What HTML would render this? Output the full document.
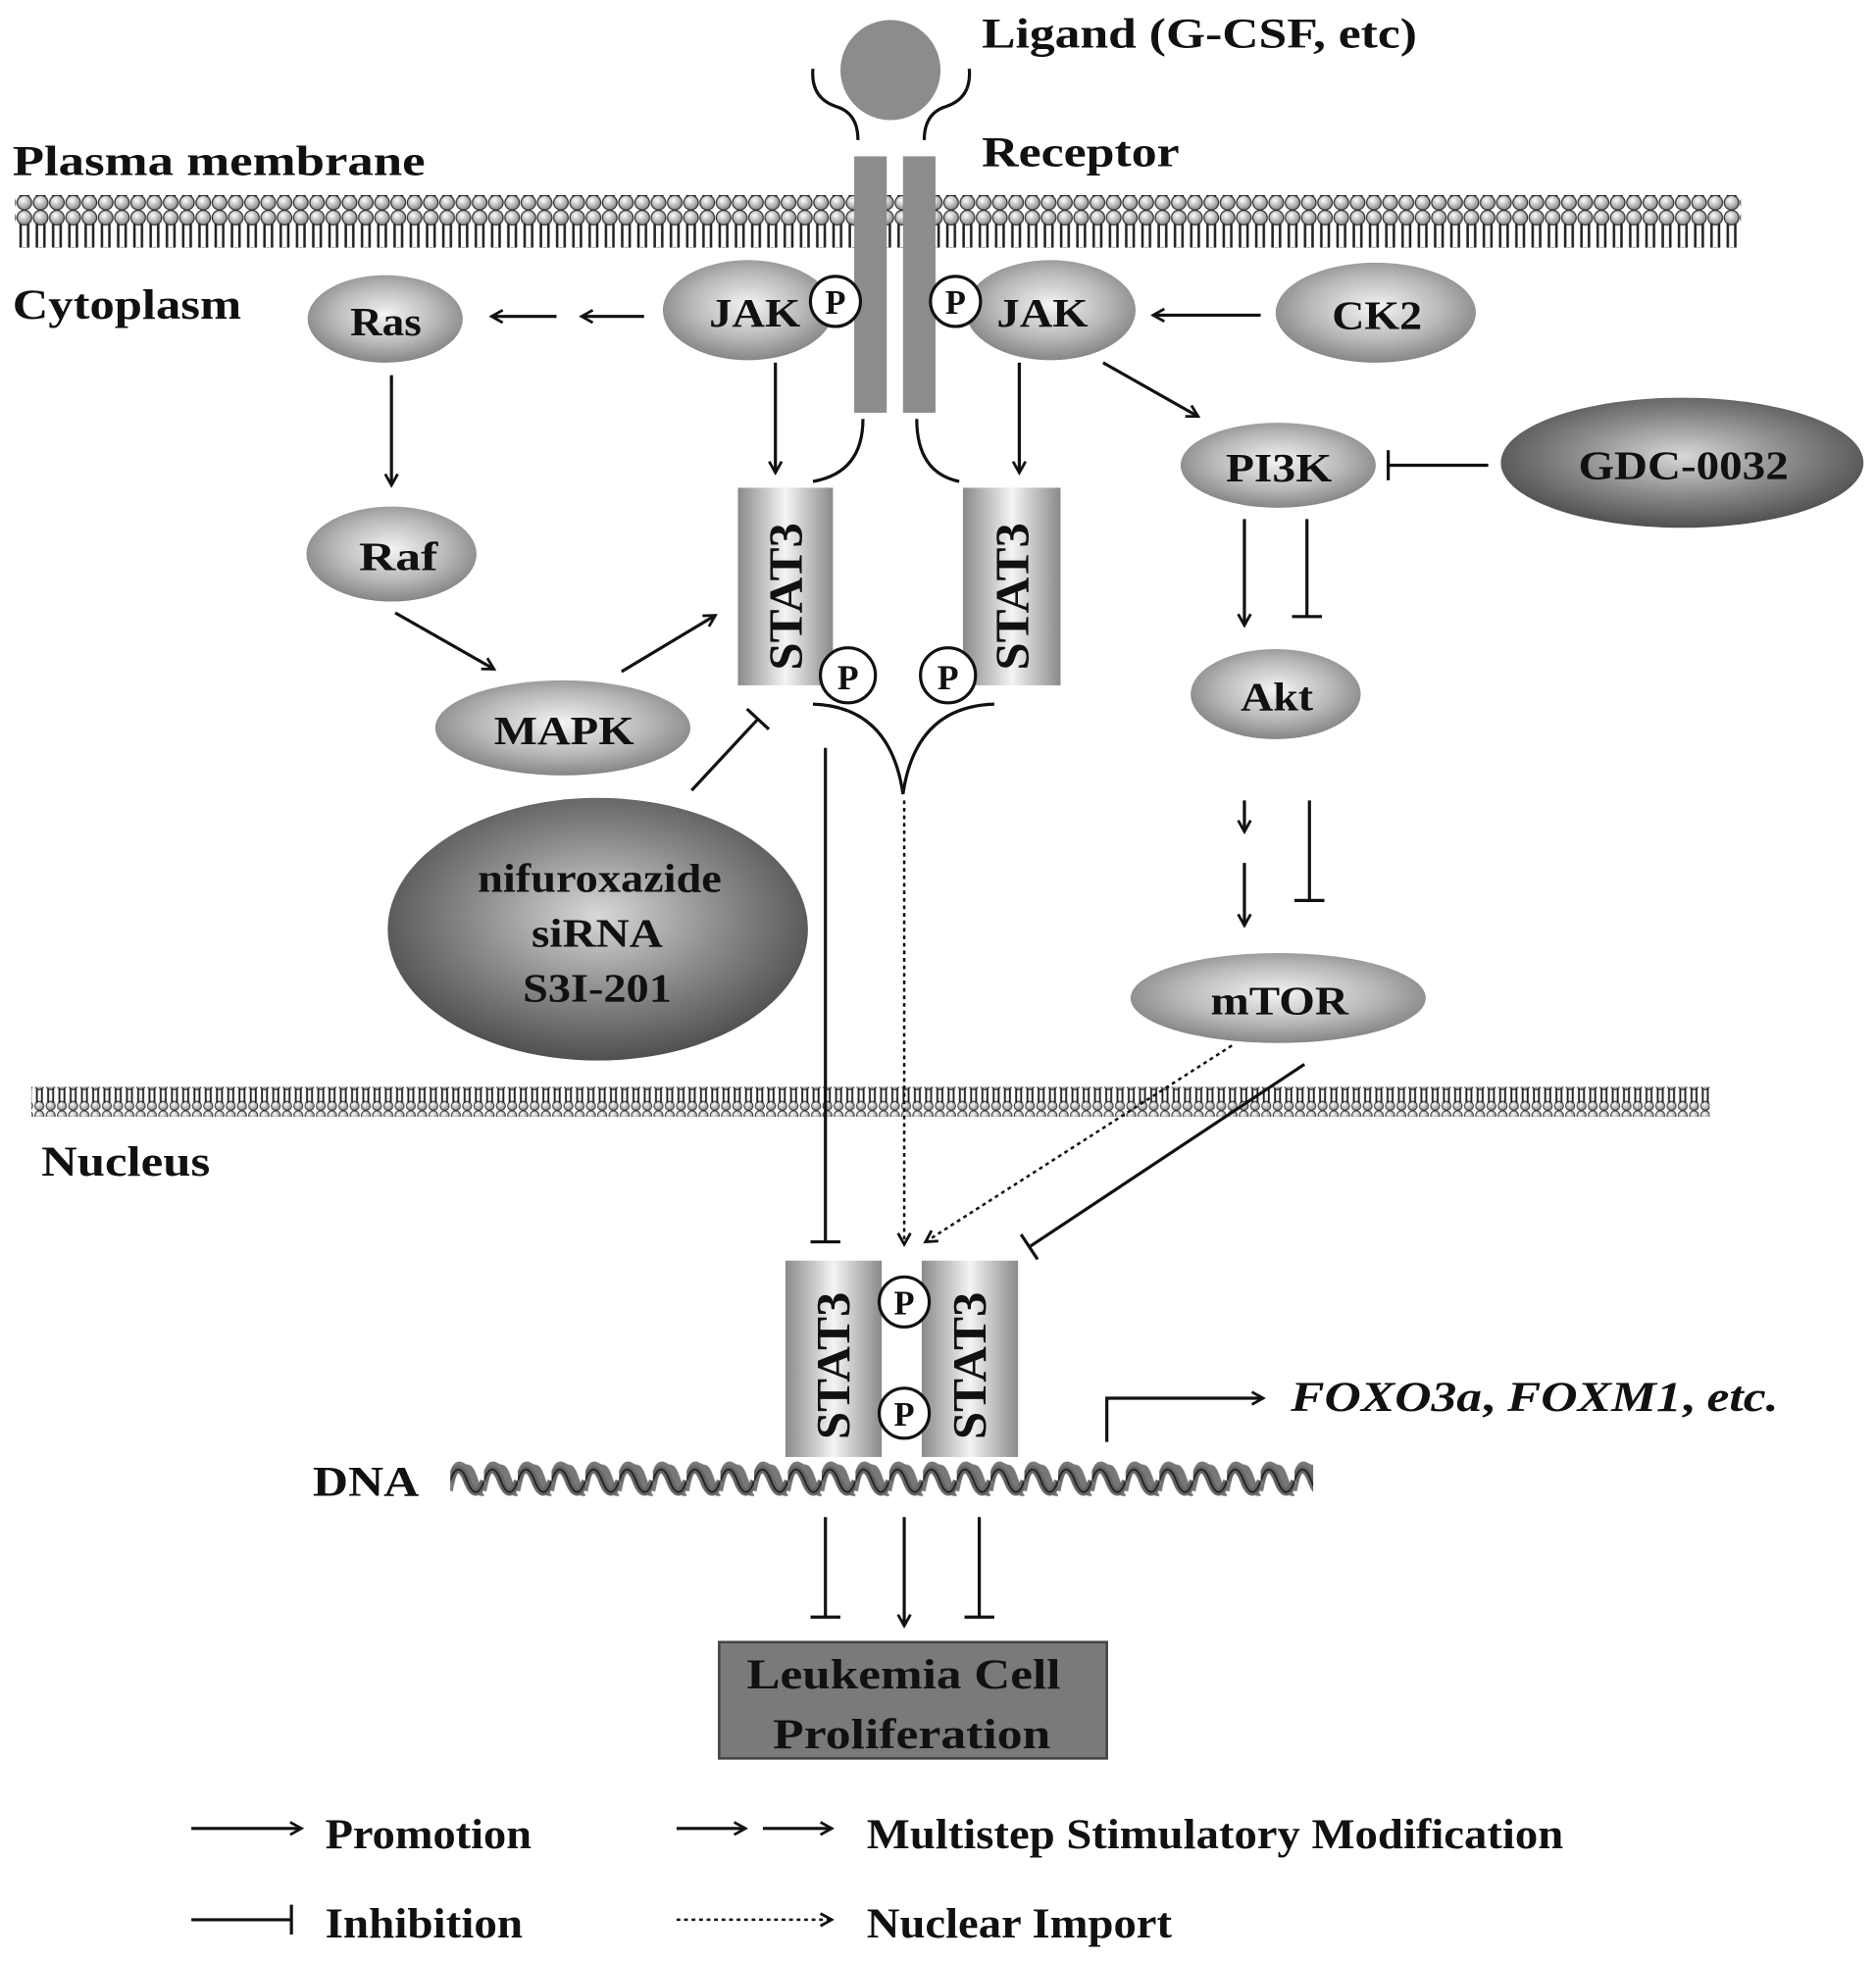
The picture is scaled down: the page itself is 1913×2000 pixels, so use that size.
<!DOCTYPE html>
<html><head><meta charset="utf-8"><style>
html,body{margin:0;padding:0;background:#fff;}
svg{display:block;}
text{font-family:"Liberation Serif",serif;font-weight:bold;fill:#111;}
</style></head><body>
<svg width="1913" height="2000" viewBox="0 0 1500 1568" preserveAspectRatio="none" xmlns="http://www.w3.org/2000/svg">
<defs>
<radialGradient id="eg" cx="50%" cy="45%" r="60%"><stop offset="0" stop-color="#f4f4f4"/><stop offset="0.55" stop-color="#b8b8b8"/><stop offset="1" stop-color="#7a7a7a"/></radialGradient>
<radialGradient id="dg" cx="50%" cy="45%" r="60%"><stop offset="0" stop-color="#d8d8d8"/><stop offset="0.5" stop-color="#8a8a8a"/><stop offset="1" stop-color="#444"/></radialGradient>
<linearGradient id="bx" x1="0" x2="1" y1="0" y2="0"><stop offset="0" stop-color="#8a8a8a"/><stop offset="0.5" stop-color="#f4f4f4"/><stop offset="1" stop-color="#8a8a8a"/></linearGradient>
<radialGradient id="lip" cx="40%" cy="35%" r="65%"><stop offset="0" stop-color="#fff"/><stop offset="1" stop-color="#888"/></radialGradient>
<pattern id="mem" x="0" y="0" width="13" height="42" patternUnits="userSpaceOnUse">
<circle cx="6.5" cy="6" r="5.8" fill="url(#lip)" stroke="#333" stroke-width="1"/>
<circle cx="6.5" cy="36" r="5.8" fill="url(#lip)" stroke="#333" stroke-width="1"/>
<path d="M3.5 11 V31 M9.5 11 V31" stroke="#222" stroke-width="2"/>
</pattern>
<pattern id="nmem" x="0" y="0" width="9" height="24" patternUnits="userSpaceOnUse">
<circle cx="4.5" cy="3.8" r="3.6" fill="url(#lip)" stroke="#333" stroke-width="0.8"/>
<circle cx="4.5" cy="20.2" r="3.6" fill="url(#lip)" stroke="#333" stroke-width="0.8"/>
<path d="M2.5 6 V18 M6.5 6 V18" stroke="#222" stroke-width="1.5"/>
</pattern>
<pattern id="dnap" x="360" y="1166" width="27" height="36" patternUnits="userSpaceOnUse">
<path d="M-1 26 C5 -4 8 8 13.5 8 C19 8 20 30 27 27 C29 26 28 26 28 26" fill="none" stroke="#777" stroke-width="6"/>
<path d="M0 18 C4 6 9 6 13.5 18 C18 30 23 30 27 18" fill="none" stroke="#666" stroke-width="6"/>
<path d="M0 18 C4 6 9 6 13.5 18 C18 30 23 30 27 18" fill="none" stroke="#222" stroke-width="1.5"/>
</pattern>
<marker id="ar" markerWidth="12" markerHeight="12" refX="10" refY="6" orient="auto" markerUnits="userSpaceOnUse"><path d="M1 1 L10 6 L1 11" fill="none" stroke="#111" stroke-width="2.2"/></marker>
<marker id="tb" markerWidth="4" markerHeight="24" refX="2" refY="12" orient="auto" markerUnits="userSpaceOnUse"><path d="M2 0 V24" stroke="#111" stroke-width="2.5"/></marker>
</defs>

<!-- membranes -->
<rect x="12" y="156" width="1380" height="42" fill="url(#mem)"/>
<rect x="25" y="869" width="1342" height="24" fill="url(#nmem)"/>

<!-- labels -->
<text x="10" y="140" font-size="34" textLength="330" lengthAdjust="spacingAndGlyphs">Plasma  membrane</text>
<text x="10" y="255" font-size="34" textLength="183" lengthAdjust="spacingAndGlyphs">Cytoplasm</text>
<text x="33" y="940" font-size="34" textLength="135" lengthAdjust="spacingAndGlyphs">Nucleus</text>
<text x="785" y="38" font-size="34" textLength="348" lengthAdjust="spacingAndGlyphs">Ligand (G-CSF, etc)</text>
<text x="785" y="133" font-size="34" textLength="158" lengthAdjust="spacingAndGlyphs">Receptor</text>

<!-- ligand & receptor -->
<circle cx="712" cy="56" r="40" fill="#8c8c8c"/>
<path d="M650 55 Q648 78 668 85 Q686 90 686 112" fill="none" stroke="#111" stroke-width="2.5"/>
<path d="M775 55 Q777 78 757 85 Q739 90 739 112" fill="none" stroke="#111" stroke-width="2.5"/>
<rect x="683" y="125" width="26" height="205" fill="#8c8c8c"/>
<rect x="722" y="125" width="26" height="205" fill="#8c8c8c"/>
<path d="M690 335 Q690 378 650 385" fill="none" stroke="#111" stroke-width="2.5"/>
<path d="M733 335 Q733 378 767 385" fill="none" stroke="#111" stroke-width="2.5"/>

<!-- JAKs -->
<ellipse cx="598" cy="248" rx="68" ry="40" fill="url(#eg)"/>
<text x="567" y="261" font-size="32" textLength="73" lengthAdjust="spacingAndGlyphs">JAK</text>
<ellipse cx="840" cy="248" rx="68" ry="40" fill="url(#eg)"/>
<text x="797" y="261" font-size="32" textLength="73" lengthAdjust="spacingAndGlyphs">JAK</text>
<circle cx="668" cy="241" r="20" fill="#fff" stroke="#111" stroke-width="2.5"/>
<text x="668" y="251" font-size="27" text-anchor="middle" font-family="Liberation Sans">P</text>
<circle cx="764" cy="241" r="20" fill="#fff" stroke="#111" stroke-width="2.5"/>
<text x="764" y="251" font-size="27" text-anchor="middle" font-family="Liberation Sans">P</text>

<ellipse cx="1100" cy="250" rx="80" ry="40" fill="url(#eg)"/>
<text x="1065" y="263" font-size="32" textLength="72" lengthAdjust="spacingAndGlyphs">CK2</text>
<ellipse cx="308" cy="255" rx="62" ry="35" fill="url(#eg)"/>
<text x="280" y="268" font-size="32" textLength="57" lengthAdjust="spacingAndGlyphs">Ras</text>
<ellipse cx="313" cy="443" rx="68" ry="38" fill="url(#eg)"/>
<text x="287" y="456" font-size="32" textLength="63" lengthAdjust="spacingAndGlyphs">Raf</text>
<ellipse cx="450" cy="582" rx="102" ry="38" fill="url(#eg)"/>
<text x="395" y="595" font-size="32" textLength="112" lengthAdjust="spacingAndGlyphs">MAPK</text>
<ellipse cx="1022" cy="372" rx="78" ry="34" fill="url(#eg)"/>
<text x="980" y="385" font-size="32" textLength="85" lengthAdjust="spacingAndGlyphs">PI3K</text>
<ellipse cx="1345" cy="370" rx="145" ry="52" fill="url(#dg)"/>
<text x="1262" y="383" font-size="32" textLength="168" lengthAdjust="spacingAndGlyphs">GDC-0032</text>
<ellipse cx="1020" cy="555" rx="68" ry="36" fill="url(#eg)"/>
<text x="992" y="568" font-size="32" textLength="58" lengthAdjust="spacingAndGlyphs">Akt</text>
<ellipse cx="1022" cy="798" rx="118" ry="36" fill="url(#eg)"/>
<text x="968" y="811" font-size="32" textLength="110" lengthAdjust="spacingAndGlyphs">mTOR</text>
<ellipse cx="478" cy="743" rx="168" ry="105" fill="url(#dg)"/>
<text x="382" y="713" font-size="32" textLength="195" lengthAdjust="spacingAndGlyphs">nifuroxazide</text>
<text x="425" y="757" font-size="32" textLength="105" lengthAdjust="spacingAndGlyphs">siRNA</text>
<text x="418" y="801" font-size="32" textLength="119" lengthAdjust="spacingAndGlyphs">S3I-201</text>

<!-- top STAT3 -->
<rect x="590" y="390" width="76" height="158" fill="url(#bx)"/>
<rect x="770" y="390" width="78" height="158" fill="url(#bx)"/>
<text transform="translate(641,477) rotate(-90)" font-size="38" text-anchor="middle" textLength="118" lengthAdjust="spacingAndGlyphs">STAT3</text>
<text transform="translate(822,477) rotate(-90)" font-size="38" text-anchor="middle" textLength="118" lengthAdjust="spacingAndGlyphs">STAT3</text>
<circle cx="678" cy="540" r="22" fill="#fff" stroke="#111" stroke-width="2.5"/>
<text x="678" y="551" font-size="28" text-anchor="middle" font-family="Liberation Sans">P</text>
<circle cx="758" cy="540" r="22" fill="#fff" stroke="#111" stroke-width="2.5"/>
<text x="758" y="551" font-size="28" text-anchor="middle" font-family="Liberation Sans">P</text>
<path d="M650 563 Q712 565 722 635 Q732 565 795 563" fill="none" stroke="#111" stroke-width="2.5"/>

<!-- bottom STAT3 -->
<rect x="628" y="1008" width="77" height="157" fill="url(#bx)"/>
<rect x="737" y="1008" width="77" height="157" fill="url(#bx)"/>
<text transform="translate(679,1092) rotate(-90)" font-size="38" text-anchor="middle" textLength="118" lengthAdjust="spacingAndGlyphs">STAT3</text>
<text transform="translate(788,1092) rotate(-90)" font-size="38" text-anchor="middle" textLength="118" lengthAdjust="spacingAndGlyphs">STAT3</text>
<circle cx="723" cy="1041" r="20" fill="#fff" stroke="#111" stroke-width="2.5"/>
<text x="723" y="1051" font-size="27" text-anchor="middle" font-family="Liberation Sans">P</text>
<circle cx="723" cy="1130" r="20" fill="#fff" stroke="#111" stroke-width="2.5"/>
<text x="723" y="1140" font-size="27" text-anchor="middle" font-family="Liberation Sans">P</text>

<!-- DNA -->
<text x="250" y="1196" font-size="34" textLength="85" lengthAdjust="spacingAndGlyphs">DNA</text>
<rect x="360" y="1166" width="690" height="36" fill="url(#dnap)"/>

<path d="M885 1153 V1118 H1010" fill="none" stroke="#111" stroke-width="2.5" marker-end="url(#ar)"/>
<text x="1032" y="1128" font-size="34" font-style="italic" textLength="390" lengthAdjust="spacingAndGlyphs">FOXO3a<tspan font-style="normal">, </tspan>FOXM1<tspan font-style="normal">, </tspan>etc.</text>

<!-- Leukemia box -->
<rect x="575" y="1313" width="310" height="93" fill="#7a7a7a" stroke="#444" stroke-width="2"/>
<text x="597" y="1350" font-size="34" textLength="251" lengthAdjust="spacingAndGlyphs">Leukemia Cell</text>
<text x="618" y="1398" font-size="34" textLength="222" lengthAdjust="spacingAndGlyphs">Proliferation</text>

<g stroke="#111" stroke-width="2.5" fill="none">
<line x1="515" y1="253" x2="465" y2="253" marker-end="url(#ar)"/>
<line x1="445" y1="253" x2="393" y2="253" marker-end="url(#ar)"/>
<line x1="313" y1="300" x2="313" y2="388" marker-end="url(#ar)"/>
<line x1="316" y1="490" x2="395" y2="535" marker-end="url(#ar)"/>
<line x1="497" y1="537" x2="572" y2="492" marker-end="url(#ar)"/>
<line x1="620" y1="290" x2="620" y2="378" marker-end="url(#ar)"/>
<line x1="815" y1="290" x2="815" y2="378" marker-end="url(#ar)"/>
<line x1="1008" y1="252" x2="922" y2="252" marker-end="url(#ar)"/>
<line x1="882" y1="290" x2="958" y2="333" marker-end="url(#ar)"/>
<line x1="1190" y1="372" x2="1110" y2="372" marker-end="url(#tb)"/>
<line x1="995" y1="415" x2="995" y2="500" marker-end="url(#ar)"/>
<line x1="1045" y1="415" x2="1045" y2="493" marker-end="url(#tb)"/>
<line x1="995" y1="640" x2="995" y2="665" marker-end="url(#ar)"/>
<line x1="995" y1="690" x2="995" y2="740" marker-end="url(#ar)"/>
<line x1="1047" y1="640" x2="1047" y2="720" marker-end="url(#tb)"/>
<line x1="553" y1="632" x2="606" y2="575" marker-end="url(#tb)"/>
<line x1="660" y1="598" x2="660" y2="993" marker-end="url(#tb)"/>
<line x1="1043" y1="851" x2="823" y2="997" marker-end="url(#tb)"/>
<line x1="723" y1="640" x2="723" y2="995" stroke-dasharray="3,3" stroke-width="2" marker-end="url(#ar)"/>
<line x1="985" y1="836" x2="740" y2="993" stroke-dasharray="3,3" stroke-width="2" marker-end="url(#ar)"/>
<line x1="660" y1="1213" x2="660" y2="1293" marker-end="url(#tb)"/>
<line x1="723" y1="1213" x2="723" y2="1300" marker-end="url(#ar)"/>
<line x1="783" y1="1213" x2="783" y2="1293" marker-end="url(#tb)"/>
<line x1="153" y1="1462" x2="241" y2="1462" marker-end="url(#ar)"/>
<line x1="153" y1="1535" x2="233" y2="1535" marker-end="url(#tb)"/>
<line x1="541" y1="1462" x2="596" y2="1462" marker-end="url(#ar)"/>
<line x1="610" y1="1462" x2="665" y2="1462" marker-end="url(#ar)"/>
<line x1="541" y1="1535" x2="665" y2="1535" stroke-dasharray="3,3" stroke-width="2" marker-end="url(#ar)"/>
</g>
<text x="260" y="1478" font-size="34" textLength="165" lengthAdjust="spacingAndGlyphs">Promotion</text>
<text x="260" y="1549" font-size="34" textLength="158" lengthAdjust="spacingAndGlyphs">Inhibition</text>
<text x="693" y="1478" font-size="34" textLength="557" lengthAdjust="spacingAndGlyphs">Multistep Stimulatory Modification</text>
<text x="693" y="1549" font-size="34" textLength="244" lengthAdjust="spacingAndGlyphs">Nuclear Import</text>
</svg>
</body></html>
